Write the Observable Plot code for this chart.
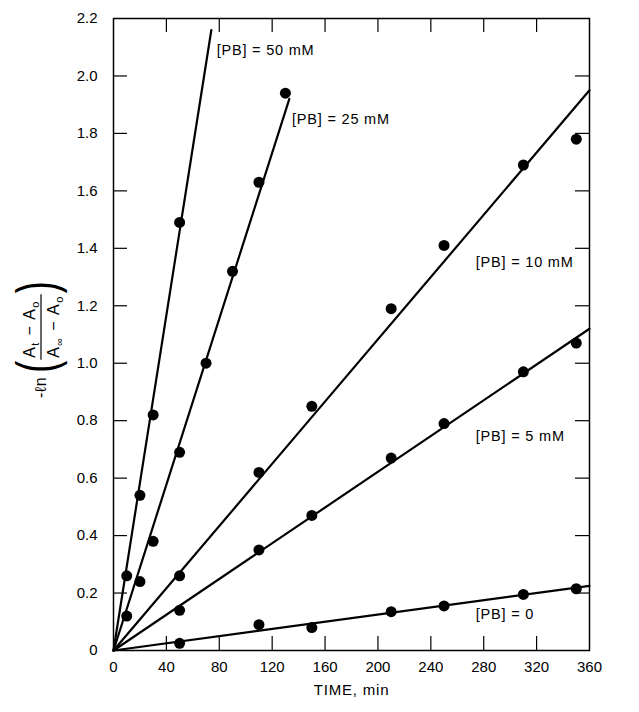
<!DOCTYPE html>
<html>
<head>
<meta charset="utf-8">
<script src="https://cdn.jsdelivr.net/npm/d3@7"></script>
<script src="https://cdn.jsdelivr.net/npm/@observablehq/plot@0.6"></script>
<style>
  html, body { margin: 0; padding: 0; background: #fff; }
  #chart svg { display: block; }
</style>
</head>
<body>
<div id="chart"></div>
<script>
// ---- data ----
const seriesNames = ["50 mM", "25 mM", "10 mM", "5 mM", "0"];

const times50 = [10, 20, 30, 50];
const vals50  = [0.26, 0.54, 0.82, 1.49];

const times25 = [10, 20, 30, 50, 70, 90, 110, 130];
const vals25  = [0.12, 0.24, 0.38, 0.69, 1.00, 1.32, 1.63, 1.94];

const times10 = [50, 110, 150, 210, 250, 310, 350];
const vals10  = [0.26, 0.62, 0.85, 1.19, 1.41, 1.69, 1.78];

const times5 = [50, 110, 150, 210, 250, 310, 350];
const vals5  = [0.14, 0.35, 0.47, 0.67, 0.79, 0.97, 1.07];

const times0 = [50, 110, 150, 210, 250, 310, 350];
const vals0  = [0.025, 0.09, 0.08, 0.135, 0.155, 0.195, 0.215];

// fitted straight lines: from origin to these end points
const fitStartTime  = [0, 0, 0, 0, 0];
const fitStartValue = [0, 0, 0, 0, 0];
const fitEndTime    = [74, 133, 360, 360, 360];
const fitEndValue   = [2.16, 1.92, 1.95, 1.12, 0.225];

const labelTexts = ["[PB] = 50 mM", "[PB] = 25 mM", "[PB] = 10 mM", "[PB] = 5 mM", "[PB] = 0"];
const labelTime  = [78, 135, 274, 274, 274];
const labelValue = [2.09, 1.85, 1.35, 0.745, 0.125];

const xTicks = [0, 40, 80, 120, 160, 200, 240, 280, 320, 360];
const yTicks = [0, 0.2, 0.4, 0.6, 0.8, 1.0, 1.2, 1.4, 1.6, 1.8, 2.0, 2.2];
const xTitle = "TIME, min";

// ---- tables built from the arrays ----
const allTimes = [times50, times25, times10, times5, times0];
const allVals  = [vals50, vals25, vals10, vals5, vals0];
const points = [];
seriesNames.forEach((s, i) => allTimes[i].forEach((t, j) => points.push({series: s, t, v: allVals[i][j]})));
const fits = [];
seriesNames.forEach((s, i) => {
  fits.push({series: s, t: fitStartTime[i], v: fitStartValue[i]});
  fits.push({series: s, t: fitEndTime[i], v: fitEndValue[i]});
});
const labels = labelTexts.map((text, i) => ({text, t: labelTime[i], v: labelValue[i]}));

// ---- layout ----
const W = 639, H = 712;
const mL = 113, mR = 50, mT = 18, mB = 62;
const fw = W - mL - mR, fh = H - mT - mB;
const tickLen = 14;
const font = "'Liberation Sans', Arial, Helvetica, sans-serif";

const chart = Plot.plot({
  width: W,
  height: H,
  marginLeft: mL,
  marginRight: mR,
  marginTop: mT,
  marginBottom: mB,
  x: {domain: [0, 360], label: null},
  y: {domain: [0, 2.2], label: null},
  style: {fontFamily: font, fontSize: "15px", color: "#000", background: "#fff", overflow: "visible"},
  marks: [
    Plot.axisX(xTicks, {tickSize: 0, tickPadding: 11, tickFormat: d => String(d), fontSize: 15, label: null}),
    Plot.axisY(yTicks, {tickSize: 0, tickPadding: 16, tickFormat: d => d === 0 ? "0" : d.toFixed(1), fontSize: 15, label: null}),
    Plot.tickX(xTicks.slice(1, -1), {x: d => d, insetTop: fh - tickLen, stroke: "#000", strokeWidth: 1.2}),
    Plot.tickX(xTicks.slice(1, -1), {x: d => d, insetBottom: fh - tickLen, stroke: "#000", strokeWidth: 1.2}),
    Plot.tickY(yTicks.slice(1, -1), {y: d => d, insetRight: fw - tickLen, stroke: "#000", strokeWidth: 1.2}),
    Plot.tickY(yTicks.slice(1, -1), {y: d => d, insetLeft: fw - tickLen, stroke: "#000", strokeWidth: 1.2}),
    Plot.frame({stroke: "#000", strokeWidth: 1.5}),
    Plot.line(fits, {x: "t", y: "v", z: "series", stroke: "#000", strokeWidth: 2.2}),
    Plot.dot(points, {x: "t", y: "v", r: 5.5, fill: "#000", stroke: "none"}),
    Plot.text(labels, {x: "t", y: "v", text: "text", textAnchor: "start", fontSize: 14.5, fill: "#000"}),
    Plot.text([xTitle], {frameAnchor: "bottom", dy: 44, fontSize: 15, fill: "#000"})
  ]
});
document.getElementById("chart").appendChild(chart);

// letter spacing for the annotation texts
d3.select(chart).selectAll("text").filter(function () {
  return labelTexts.includes(this.textContent) || this.textContent === xTitle;
}).attr("letter-spacing", "0.8px");

// ---- rotated y-axis title: -ℓn((A_t − A_o)/(A_∞ − A_o)) ----
const svg = d3.select(chart);
const g = svg.append("g")
  .attr("transform", "translate(41,398) rotate(-90)")
  .attr("font-family", font)
  .attr("text-anchor", "start")
  .attr("fill", "#000");

const ln = g.append("text").attr("x", 0).attr("y", 5).attr("font-size", 16).attr("letter-spacing", "0.6px").text("-ℓn");
const wLn = ln.node().getComputedTextLength();

function paren(x, ch) {
  return g.append("text")
    .attr("transform", `translate(${x},14) scale(1.5,2.3)`)
    .attr("font-size", 24)
    .text(ch);
}
const xOpen = wLn + 4;
const p1 = paren(xOpen, "(");
const wParen = p1.node().getComputedTextLength() * 1.5;
const xFrac = xOpen + wParen + 3;

function fracPart(y, sub1, sub2) {
  const t = g.append("text").attr("x", xFrac).attr("y", y).attr("font-size", 16).attr("letter-spacing", "1.4px");
  t.append("tspan").text("A");
  t.append("tspan").attr("font-size", 11).attr("dy", 4).text(sub1);
  t.append("tspan").attr("dy", -4).text(" − A");
  t.append("tspan").attr("font-size", 11).attr("dy", 4).text(sub2);
  return t;
}
const num = fracPart(-6, "t", "o");
const den = fracPart(18, "∞", "o");
const wMax = Math.max(num.node().getComputedTextLength(), den.node().getComputedTextLength());
g.append("line").attr("x1", xFrac - 2).attr("x2", xFrac + wMax + 1).attr("y1", 0).attr("y2", 0)
  .attr("stroke", "#000").attr("stroke-width", 1.2);
paren(xFrac + wMax + 2, ")");
</script>
</body>
</html>
